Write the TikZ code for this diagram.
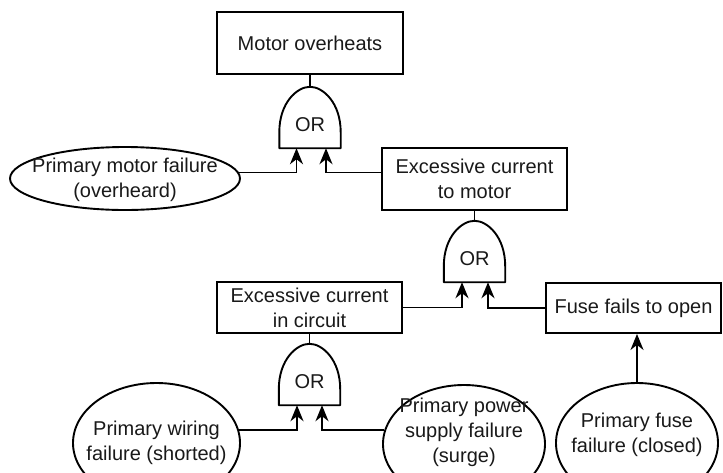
\documentclass[tikz,border=0pt]{standalone}
\usepackage{fontspec}
\setmainfont{Liberation Sans}
\usetikzlibrary{arrows.meta,shapes.geometric}

% OR gate outline drawn around a named gate node
\newcommand\orshape[1]{%
  \draw[link, line join=round] (#1.south west)
    -- ([yshift=16pt]#1.south west)
    .. controls ([yshift=-16pt]#1.north west) and ([xshift=-13pt]#1.north) .. (#1.north)
    .. controls ([xshift=13pt]#1.north) and ([yshift=-16pt]#1.north east) .. ([yshift=16pt]#1.south east)
    -- (#1.south east) -- cycle;}

\begin{document}
\begin{tikzpicture}[x=1pt,y=-1pt,
  every node/.style={font=\fontsize{20}{25}\selectfont, text=black!90},
  event/.style={draw, line width=1.9pt, rectangle, inner sep=0pt, align=center},
  basic/.style={draw, line width=1.9pt, ellipse, inner sep=0pt},
  gatebody/.style={rectangle, inner sep=0pt, minimum width=61pt, minimum height=61pt},
  link/.style={line width=1.9pt},
  feed/.style={line width=1.9pt, -{Stealth[length=16pt,width=13pt,inset=5pt]}},
]
\useasboundingbox (0,0) rectangle (723,472);
\clip (0,0) rectangle (723,472);

% events and gates
\node[event, minimum width=186pt, minimum height=62pt] (top) at (310,43) {Motor overheats};
\node[gatebody, label={[yshift=-7pt]center:OR}] (g1) at (310,117.5) {};
\node[basic, minimum width=230pt, minimum height=63pt,
      label={[align=center, yshift=-1pt]center:Primary motor failure\\(overheard)}] (pm) at (125,178.5) {};
\node[event, minimum width=185pt, minimum height=62pt] (ec) at (474.5,179) {Excessive current\\to motor};
\node[gatebody, label={[yshift=-7pt]center:OR}] (g2) at (474.5,251.5) {};
\node[event, minimum width=185pt, minimum height=51pt] (ic) at (309.5,307.5) {Excessive current\\in circuit};
\node[event, minimum width=175pt, minimum height=50pt] (ff) at (633.5,308) {Fuse fails to open};
\node[gatebody, label={[yshift=-7pt]center:OR}] (g3) at (309.5,374.5) {};
\node[basic, minimum width=167pt, minimum height=120pt,
      label={[align=center]center:Primary wiring\\failure (shorted)}] (pw) at (156.5,443) {};
\node[basic, minimum width=162pt, minimum height=118pt,
      label={[align=center, yshift=12pt]center:Primary power\\supply failure\\(surge)}] (ps) at (464,444) {};
\node[basic, minimum width=162pt, minimum height=120pt,
      label={[align=center, yshift=8pt]center:Primary fuse\\failure (closed)}] (pf) at (637,443) {};

\orshape{g1}
\orshape{g2}
\orshape{g3}

% gate inputs
\coordinate (g1a) at ([xshift=-13.5pt]g1.south);
\coordinate (g1b) at ([xshift=16pt]g1.south);
\coordinate (g2a) at ([xshift=-12.5pt]g2.south);
\coordinate (g2b) at ([xshift=13.5pt]g2.south);
\coordinate (g3a) at ([xshift=-12.5pt]g3.south);
\coordinate (g3b) at ([xshift=12.5pt]g3.south);

% connectors
\draw[link] (top.south) -- (g1.north);
\draw[feed] (pm.3.3) -| (g1a);
\draw[feed] (ec.west |- pm.3.3) -| (g1b);

\draw[link] (ec.south) -- (g2.north);
\draw[feed] (ic.east) -| (g2a);
\draw[feed] (ff.west) -| (g2b);

\draw[link] (ic.south) -- (g3.north);
\draw[feed] (pw.9.2) -| (g3a);
\draw[feed] (ps.170) -| (g3b);

\draw[feed] (pf.north) -- (pf.north |- ff.south);
\end{tikzpicture}
\end{document}
